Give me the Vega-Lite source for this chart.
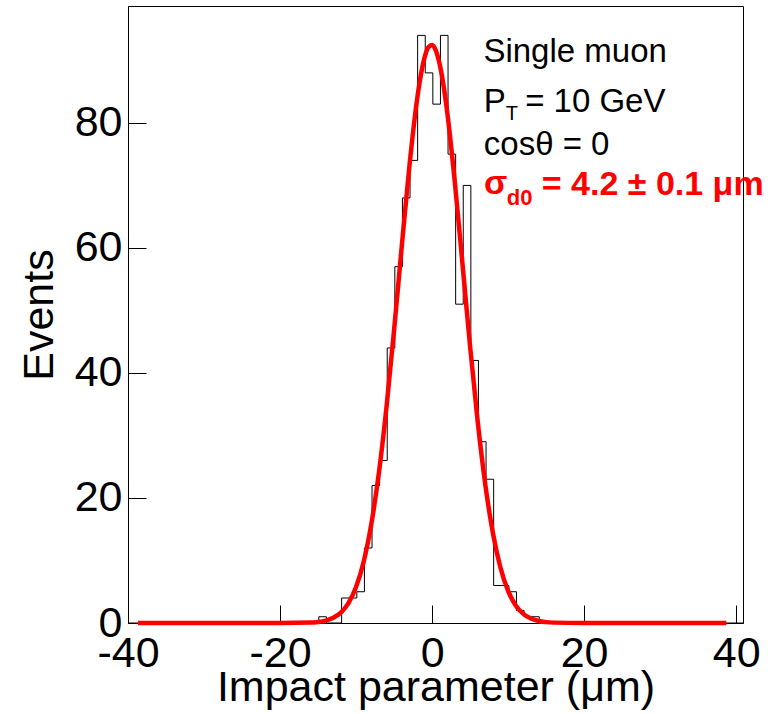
{
  "$schema": "https://vega.github.io/schema/vega-lite/v6.json",
  "width": 615,
  "height": 617,
  "autosize": {"type": "none"},
  "padding": {"left": 128, "top": 6, "right": 29, "bottom": 91},
  "background": "white",
  "config": {
    "view": {"stroke": "black", "strokeWidth": 1},
    "font": "Liberation Sans",
    "axis": {
      "grid": false,
      "domainColor": "black",
      "tickColor": "black",
      "labelFont": "Liberation Sans",
      "labelFontSize": 43,
      "labelColor": "black",
      "titleFont": "Liberation Sans",
      "titleFontSize": 43,
      "titleFontWeight": "normal",
      "titleColor": "black"
    }
  },
  "datasets": {
    "hist": [
      {"x": -40, "y": 0},
      {"x": -14.9, "y": 1},
      {"x": -13.9, "y": 0},
      {"x": -12.9, "y": 0},
      {"x": -11.9, "y": 4},
      {"x": -10.9, "y": 4},
      {"x": -9.9, "y": 5},
      {"x": -8.9, "y": 12},
      {"x": -7.9, "y": 22},
      {"x": -6.9, "y": 26},
      {"x": -5.9, "y": 44},
      {"x": -4.9, "y": 57},
      {"x": -3.9, "y": 68},
      {"x": -2.9, "y": 74},
      {"x": -1.9, "y": 94},
      {"x": -0.9, "y": 88},
      {"x": 0.1, "y": 83},
      {"x": 1.1, "y": 94},
      {"x": 2.1, "y": 75},
      {"x": 3.1, "y": 51},
      {"x": 4.1, "y": 70},
      {"x": 5.1, "y": 42},
      {"x": 6.1, "y": 29},
      {"x": 7.1, "y": 23},
      {"x": 8.1, "y": 6},
      {"x": 9.1, "y": 6},
      {"x": 10.1, "y": 5},
      {"x": 11.1, "y": 2},
      {"x": 12.1, "y": 1},
      {"x": 13.1, "y": 1},
      {"x": 14.1, "y": 0},
      {"x": 40.9, "y": 0}
    ],
    "fit": [
      {"x": -38.7, "y": 0},
      {"x": -20, "y": 0.001},
      {"x": -16, "y": 0.071},
      {"x": -15, "y": 0.171},
      {"x": -14, "y": 0.387},
      {"x": -13, "y": 0.827},
      {"x": -12, "y": 1.67},
      {"x": -11, "y": 3.19},
      {"x": -10, "y": 5.75},
      {"x": -9, "y": 9.8},
      {"x": -8, "y": 15.77},
      {"x": -7, "y": 23.99},
      {"x": -6, "y": 34.49},
      {"x": -5, "y": 46.83},
      {"x": -4, "y": 60.11},
      {"x": -3, "y": 72.88},
      {"x": -2, "y": 83.5},
      {"x": -1.5, "y": 87.5},
      {"x": -1, "y": 90.4},
      {"x": -0.5, "y": 92.08},
      {"x": 0, "y": 92.47},
      {"x": 0.5, "y": 91.56},
      {"x": 1, "y": 89.38},
      {"x": 1.5, "y": 86.03},
      {"x": 2, "y": 81.63},
      {"x": 3, "y": 70.44},
      {"x": 4, "y": 57.44},
      {"x": 5, "y": 44.25},
      {"x": 6, "y": 32.22},
      {"x": 7, "y": 22.16},
      {"x": 8, "y": 14.4},
      {"x": 9, "y": 8.84},
      {"x": 10, "y": 5.13},
      {"x": 11, "y": 2.81},
      {"x": 12, "y": 1.46},
      {"x": 13, "y": 0.71},
      {"x": 14, "y": 0.33},
      {"x": 15, "y": 0.14},
      {"x": 16, "y": 0.06},
      {"x": 20, "y": 0.001},
      {"x": 38.7, "y": 0}
    ],
    "textBlack": [
      {"x": 6.75, "y": 89.8, "label": "Single muon"},
      {"x": 6.8, "y": 81.8, "label": "P"},
      {"x": 12.24, "y": 81.8, "label": "= 10 GeV"},
      {"x": 6.8, "y": 74.9, "label": "cosθ = 0"}
    ],
    "textBlackSub": [
      {"x": 9.7, "y": 80.5, "label": "T"}
    ],
    "textRed": [
      {"x": 6.84, "y": 68.6, "label": "σ"},
      {"x": 14.43, "y": 68.5, "label": "= 4.2 ± 0.1 μm"}
    ],
    "textRedSub": [
      {"x": 9.83, "y": 66.9, "label": "d0"}
    ]
  },
  "encoding": {
    "x": {
      "field": "x",
      "type": "quantitative",
      "scale": {"domain": [-40, 40.9], "nice": false, "zero": false},
      "axis": {
        "title": "Impact parameter (μm)",
        "values": [-40, -20, 0, 20, 40],
        "tickSize": -18,
        "labelPadding": 27,
        "labelFlush": false,
        "labelOverlap": false,
        "labelBound": false,
        "labelExpr": "replace(datum.label, '−', '-')",
        "titlePadding": -9
      }
    },
    "y": {
      "field": "y",
      "type": "quantitative",
      "scale": {"domain": [0, 98.7], "nice": false, "zero": false},
      "axis": {
        "title": "Events",
        "values": [0, 20, 40, 60, 80],
        "tickSize": -18,
        "labelPadding": 24,
        "labelFlush": false,
        "labelOverlap": false,
        "labelBound": false,
        "titlePadding": 13
      }
    }
  },
  "layer": [
    {
      "data": {"name": "hist"},
      "mark": {"type": "line", "interpolate": "step-after", "color": "black", "strokeWidth": 1}
    },
    {
      "data": {"name": "fit"},
      "mark": {"type": "line", "interpolate": "monotone", "color": "#ff0000", "strokeWidth": 4.5}
    },
    {
      "data": {"name": "textBlack"},
      "mark": {"type": "text", "align": "left", "baseline": "alphabetic", "fontSize": 33, "color": "black", "font": "Liberation Sans"},
      "encoding": {"text": {"field": "label"}}
    },
    {
      "data": {"name": "textBlackSub"},
      "mark": {"type": "text", "align": "left", "baseline": "alphabetic", "fontSize": 20, "color": "black", "font": "Liberation Sans"},
      "encoding": {"text": {"field": "label"}}
    },
    {
      "data": {"name": "textRed"},
      "mark": {"type": "text", "align": "left", "baseline": "alphabetic", "fontSize": 34, "fontWeight": "bold", "color": "#ff0000", "font": "Liberation Sans"},
      "encoding": {"text": {"field": "label"}}
    },
    {
      "data": {"name": "textRedSub"},
      "mark": {"type": "text", "align": "left", "baseline": "alphabetic", "fontSize": 22, "fontWeight": "bold", "color": "#ff0000", "font": "Liberation Sans"},
      "encoding": {"text": {"field": "label"}}
    }
  ]
}
